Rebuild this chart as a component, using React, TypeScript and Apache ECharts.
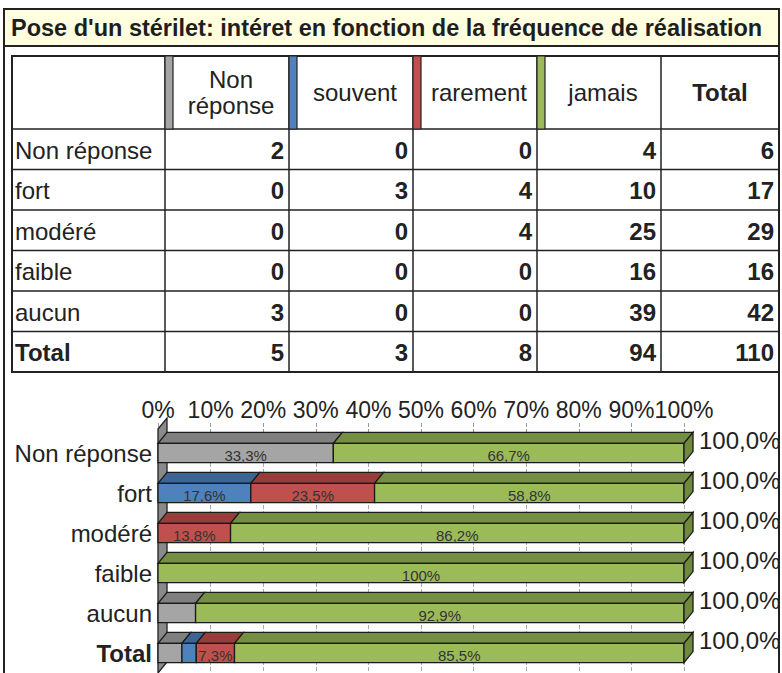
import React, { useEffect, useRef } from "react";
import * as echarts from "echarts";

// ---- data ----
const titleText = "Pose d'un stérilet: intéret en fonction de la fréquence de réalisation";
const categories = ["Non réponse", "fort", "modéré", "faible", "aucun", "Total"];
const seriesNames = ["Non réponse", "souvent", "rarement", "jamais"];
const headerLabels = ["Non\nréponse", "souvent", "rarement", "jamais", "Total"];
const nonReponse = [2, 0, 0, 0, 3, 5];
const souvent = [0, 3, 0, 0, 0, 3];
const rarement = [0, 4, 4, 0, 0, 8];
const jamais = [4, 10, 25, 16, 39, 94];
const totals = [6, 17, 29, 16, 42, 110];
const seriesValues = [nonReponse, souvent, rarement, jamais];

// ---- styles ----
const FONT = "'Liberation Sans', Arial, sans-serif";
const frontColors = ["#A5A5A5", "#4F81BD", "#C0504D", "#9BBB59"];
const topColors = ["#7F7F7F", "#3C6494", "#973E3B", "#758F42"];
const sideColor = "#6F8A3B";
const LABEL_MIN = 7.2;
const DX = 9;
const DY = 11;

const fmtPct = (v: number) => (Math.abs(v - 100) < 1e-9 ? "100%" : v.toFixed(1).replace(".", ",") + "%");

function buildTable(): any[] {
  const els: any[] = [];
  const cols = [12, 165, 289, 413, 537, 661, 779];
  const top = 56;
  const headBottom = 129;
  const rowH = 40.5;
  const bottom = headBottom + categories.length * rowH;
  const line = "#222";
  // outer frame
  els.push({ type: "rect", shape: { x: 4, y: 9, width: 775, height: 700 }, style: { fill: "none", stroke: line, lineWidth: 2 } });
  els.push({ type: "rect", shape: { x: 5, y: 10, width: 773, height: 36 }, style: { fill: "#FFFFE0" } });
  els.push({ type: "line", shape: { x1: 4, y1: 46, x2: 779, y2: 46 }, style: { stroke: line, lineWidth: 2 } });
  els.push({
    type: "text",
    x: 11,
    y: 28,
    style: { text: titleText, font: `bold 23.5px ${FONT}`, fill: "#1e1e1e", verticalAlign: "middle", align: "left" },
  });
  // table
  els.push({ type: "rect", shape: { x: cols[0], y: top, width: cols[6] - cols[0], height: bottom - top }, style: { fill: "#fff", stroke: line, lineWidth: 2 } });
  for (let i = 1; i < cols.length - 1; i++) {
    els.push({ type: "line", shape: { x1: cols[i], y1: top, x2: cols[i], y2: bottom }, style: { stroke: line, lineWidth: 1.5 } });
  }
  for (let r = 0; r < categories.length; r++) {
    const y = headBottom + r * rowH;
    els.push({ type: "line", shape: { x1: cols[0], y1: y, x2: cols[6], y2: y }, style: { stroke: line, lineWidth: 1.5 } });
  }
  // colour stripes in header
  for (let k = 0; k < seriesNames.length; k++) {
    els.push({ type: "rect", shape: { x: cols[k + 1], y: top, width: 8, height: headBottom - top }, style: { fill: frontColors[k], stroke: line, lineWidth: 1.2 } });
  }
  // header labels
  for (let k = 0; k < headerLabels.length; k++) {
    const x0 = cols[k + 1] + (k < 4 ? 8 : 0);
    const x1 = cols[k + 2];
    els.push({
      type: "text",
      x: (x0 + x1) / 2,
      y: (top + headBottom) / 2,
      style: {
        text: headerLabels[k],
        font: `${k === 4 ? "bold " : ""}24px ${FONT}`,
        fill: "#222",
        align: "center",
        verticalAlign: "middle",
        lineHeight: 26,
      },
    });
  }
  // rows
  for (let r = 0; r < categories.length; r++) {
    const yc = headBottom + r * rowH + rowH / 2 + 1;
    const isTotal = categories[r] === "Total";
    els.push({
      type: "text",
      x: cols[0] + 3,
      y: yc,
      style: { text: categories[r], font: `${isTotal ? "bold " : ""}24px ${FONT}`, fill: "#222", align: "left", verticalAlign: "middle" },
    });
    const vals = [...seriesValues.map((s) => s[r]), totals[r]];
    for (let k = 0; k < vals.length; k++) {
      els.push({
        type: "text",
        x: cols[k + 2] - 5,
        y: yc,
        style: { text: String(vals[k]), font: `bold 24px ${FONT}`, fill: "#222", align: "right", verticalAlign: "middle" },
      });
    }
  }
  return els;
}

function segmentData(k: number) {
  return categories.map((_, c) => {
    let start = 0;
    for (let j = 0; j < k; j++) start += (seriesValues[j][c] / totals[c]) * 100;
    const pct = (seriesValues[k][c] / totals[c]) * 100;
    let rowPct = 0;
    for (let j = 0; j < seriesValues.length; j++) rowPct += (seriesValues[j][c] / totals[c]) * 100;
    return [start, start + pct, c, pct, rowPct];
  });
}

export default function App() {
  const ref = useRef<HTMLDivElement>(null);
  useEffect(() => {
    if (!ref.current) return;
    const chart = echarts.init(ref.current, null, { renderer: "svg" });
    const segSeries = seriesNames.map((name, k) => ({
      type: "custom",
      name,
      data: segmentData(k),
      encode: { x: [0, 1], y: 2 },
      renderItem: (params: any, api: any) => {
        const s = api.value(0);
        const e = api.value(1);
        const c = api.value(2);
        const pct = api.value(3);
        const rowPct = api.value(4);
        if (e - s <= 1e-9) return null;
        const a = api.coord([s, c]);
        const b = api.coord([e, c]);
        const band = api.size([0, 1])[1];
        const h = band * 0.48;
        const y = a[1] - h / 2;
        const stroke = "#1a1a1a";
        const children: any[] = [
          {
            type: "polygon",
            shape: { points: [[a[0], y], [a[0] + DX, y - DY], [b[0] + DX, y - DY], [b[0], y]] },
            style: { fill: topColors[k], stroke, lineWidth: 1.3 },
          },
          {
            type: "rect",
            shape: { x: a[0], y, width: b[0] - a[0], height: h },
            style: { fill: frontColors[k], stroke, lineWidth: 1.3 },
          },
        ];
        if (e >= 99.999) {
          children.push({
            type: "polygon",
            shape: { points: [[b[0], y], [b[0] + DX, y - DY], [b[0] + DX, y + h - DY], [b[0], y + h]] },
            style: { fill: sideColor, stroke, lineWidth: 1.3 },
          });
          children.push({
            type: "text",
            x: b[0] + DX + 6,
            y: y - 3,
            style: { text: rowPct.toFixed(1).replace(".", ",") + "%", font: `24px ${FONT}`, fill: "#222", align: "left", verticalAlign: "middle" },
          });
        }
        if (pct >= LABEL_MIN) {
          children.push({
            type: "text",
            x: (a[0] + b[0]) / 2,
            y: y + h / 2 + 2,
            style: { text: fmtPct(pct), font: `15px ${FONT}`, fill: "#333", align: "center", verticalAlign: "middle" },
          });
        }
        return { type: "group", children };
      },
    }));
    const wallSeries = {
      type: "custom",
      name: "wall",
      data: [[0, 0]],
      encode: { x: 0, y: 1 },
      renderItem: (params: any, api: any) => {
        const band = api.size([0, 1])[1];
        const p0 = api.coord([0, 0]);
        const p1 = api.coord([0, categories.length - 1]);
        const top = p0[1] - band / 2;
        const bottom = p1[1] + band / 2;
        const x0 = p0[0];
        return {
          type: "polygon",
          shape: { points: [[x0, top - 4], [x0 + DX, top - 4 - DY], [x0 + DX, bottom - DY], [x0, bottom]] },
          style: { fill: "#8a8a8a", stroke: "#222", lineWidth: 1.3 },
        };
      },
    };
    chart.setOption({
      animation: false,
      backgroundColor: "#ffffff",
      grid: { left: 158, width: 526, top: 433, height: 240 },
      xAxis: {
        type: "value",
        position: "top",
        min: 0,
        max: 100,
        interval: 10,
        axisLine: { show: false },
        axisTick: { show: true, length: 10, lineStyle: { color: "#999", type: "dashed" } },
        axisLabel: {
          formatter: "{value}%",
          fontSize: 23,
          fontFamily: FONT,
          color: "#222",
          margin: 12,
          showMinLabel: true,
          showMaxLabel: true,
          hideOverlap: false,
        },
        splitLine: { show: true, lineStyle: { color: "#aaa", type: "dashed" } },
      },
      yAxis: {
        type: "category",
        inverse: true,
        data: categories,
        axisLine: { show: false },
        axisTick: { show: false },
        axisLabel: {
          fontSize: 24,
          fontFamily: FONT,
          color: "#222",
          margin: 6,
          formatter: (v: string) => (v === "Total" ? "{b|Total}" : v),
          rich: { b: { fontWeight: "bold", fontSize: 24, fontFamily: FONT, color: "#222" } },
        },
      },
      graphic: buildTable(),
      series: [wallSeries, ...segSeries],
    });
    return () => chart.dispose();
  }, []);
  return <div ref={ref} style={{ position: "absolute", left: 0, top: 0, width: 782, height: 673 }} />;
}
